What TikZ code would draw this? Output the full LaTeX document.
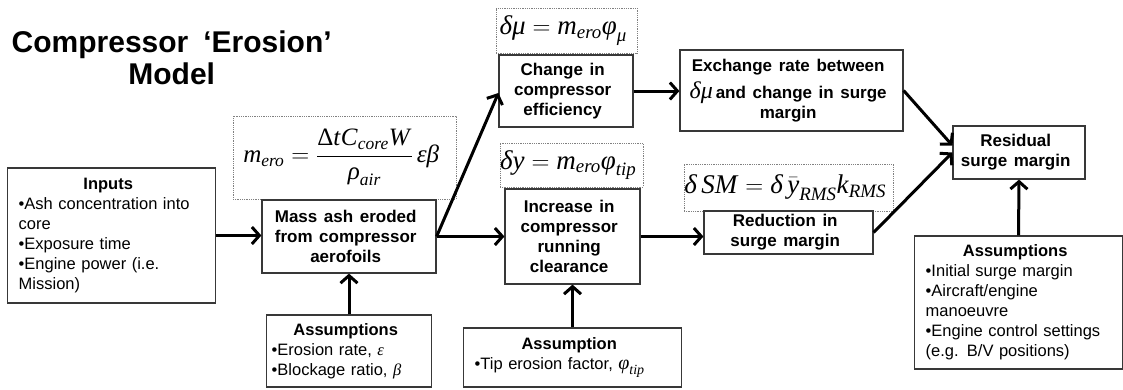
\documentclass[tikz,border=0pt]{standalone}
\usepackage{fontspec}
\usepackage{amsmath}
\setmainfont{Liberation Sans}
\newfontfamily\tnr{Liberation Serif}
\usetikzlibrary{arrows.meta,calc}
\newcommand{\ti}[1]{\text{\tnr\itshape #1\/}}
\newcommand{\tu}[1]{\text{\tnr #1}}
\newcommand{\hd}[2]{\makebox[#1][c]{\bfseries #2}}
\begin{document}
\begin{tikzpicture}[x=1pt,y=-1pt,
  box/.style={draw=black!78, line width=1.2pt, fill=white, inner sep=0pt, align=center,
    font=\bfseries\fontsize{17}{20}\selectfont},
  lbox/.style={draw=black!78, line width=1.2pt, fill=white, inner ysep=0pt, align=left,
    font=\fontsize{16.5}{20}\selectfont},
  fbox/.style={draw=black!50, densely dotted, line width=0.8pt, inner sep=0pt},
  arr/.style={line width=3pt, -{Straight Barb[length=7.5pt,width=17pt]}},
]
\spaceskip=6.6pt plus 1pt minus 1pt\relax
\fill[white] (0,0) rectangle (1123,389);
\useasboundingbox (0,0) rectangle (1123,389);

% title
\node[font=\bfseries\fontsize{30}{32}\selectfont, align=center, inner sep=0pt] (title) at (175,58)
  {Compressor\hspace{0.5em}‘Erosion’\\Model};

% formula boxes
\node[fbox, minimum width=223pt, minimum height=83pt] (fmero) at (344.5,157.5)
  {\fontsize{25}{28}\selectfont$\displaystyle \ti{m}_{\ti{ero}} = \frac{\tu{Δ}\ti{t}\ti{C}_{\ti{core}}\ti{W}}{\ti{ρ}_{\ti{air}}}\,\ti{εβ}$};
\node[fbox, minimum width=141pt, minimum height=45pt] (fmu) at (566.5,30.5)
  {\fontsize{27}{30}\selectfont$\ti{δμ} = \ti{m}_{\ti{ero}}\ti{φ}_{\ti{μ}}$};
\node[fbox, minimum width=143pt, minimum height=44pt] (fy) at (571.5,165)
  {\fontsize{27}{30}\selectfont$\ti{δy} = \ti{m}_{\ti{ero}}\ti{φ}_{\ti{tip}}$};
\node[fbox, minimum width=209pt, minimum height=47pt] (fsm) at (788.5,187.5)
  {\fontsize{27}{30}\selectfont$\ti{δ}\,\ti{SM} = \ti{δ}\,\bar{\ti{y}}_{\ti{RMS}}\ti{k}_{\ti{RMS}}$};

% main boxes
\node[lbox, inner xsep=11pt, text width=179pt, minimum height=135pt] (inputs) at (111.5,235.5)
  {\hd{179pt}{Inputs}\\•Ash concentration into\\core\\•Exposure time\\•Engine power (i.e.\\Mission)};
\node[box, minimum width=174pt, minimum height=73pt] (mass) at (349,236.5)
  {Mass ash eroded\\from compressor\\aerofoils};
\node[lbox, inner xsep=5pt, text width=148pt, minimum height=72pt] (massassump) at (349,351)
  {\hd{148pt}{Assumptions}\\•Erosion rate, {\tnr\itshape ε}\\•Blockage ratio, {\tnr\itshape β}};
\node[box, minimum width=134pt, minimum height=72pt] (change) at (566,91)
  {Change in\\compressor\\efficiency};
\node[box, minimum width=223pt, minimum height=81pt] (exchange) at (791.5,90.5)
  {Exchange rate between\\[5pt]{\mdseries\tnr\itshape\fontsize{24}{20}\selectfont δμ}\,and change in surge\\margin};
\node[box, minimum width=135pt, minimum height=95pt] (increase) at (572.5,236.5)
  {Increase in\\compressor\\running\\clearance};
\node[lbox, inner xsep=11pt, text width=189pt, minimum height=59pt] (tipassump) at (572.5,357.5)
  {\hd{189pt}{Assumption}\\•Tip erosion factor, {\fontsize{20}{20}\selectfont$\ti{φ}_{\ti{tip}}$}};
\node[box, minimum width=169pt, minimum height=43pt] (reduction) at (788.5,232.5)
  {Reduction in\\surge margin};
\node[box, minimum width=132pt, minimum height=53pt] (residual) at (1019,152.5)
  {Residual\\surge margin};
\node[lbox, inner xsep=11pt, text width=179pt, minimum height=133pt] (resassump) at (1018.5,302.5)
  {\hd{179pt}{Assumptions}\\•Initial surge margin\\•Aircraft/engine\\manoeuvre\\•Engine control settings\\(e.g. B/V positions)};

% connectors
\draw[arr] (inputs.east) -- (inputs.east -| mass.west);
\draw[arr] (mass.east) -- ($(change.west)+(0,2)$);
\draw[arr] (mass.east) -- (increase.west);
\draw[arr] (change.east) -- (change.east -| exchange.west);
\draw[arr] (increase.east) -- (increase.east -| reduction.west);
\draw[arr] (exchange.east) -- ($(residual.west)+(0,-7)$);
\draw[arr] (reduction.east) -- ($(residual.west)+(0,0)$);
\draw[arr] (massassump.north) -- (mass.south);
\draw[arr] (tipassump.north) -- (increase.south);
\draw[arr] (resassump.north) -- (residual.south);
\end{tikzpicture}
\end{document}
